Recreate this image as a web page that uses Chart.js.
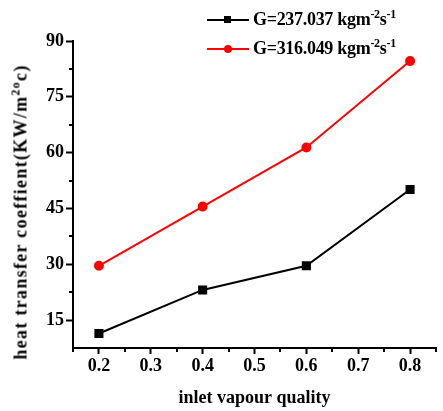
<!DOCTYPE html>
<html>
<head>
<meta charset="utf-8">
<script src="https://cdn.jsdelivr.net/npm/chart.js@4"></script>
<style>
  body { margin: 0; background: #fff; }
  #wrap { position: relative; width: 443px; height: 411px; font-family: "Liberation Serif", serif; font-weight: bold; }
  #legend { position: absolute; left: 207px; top: 5px; font-size: 18px; }
  .row { height: 29px; display: flex; align-items: center; white-space: nowrap; letter-spacing: -0.3px; }
  .sample { position: relative; width: 42px; height: 2px; margin-right: 4px; flex: none; }
  .sample i { position: absolute; left: 17px; top: -3px; width: 7px; height: 7px; }
  .sup { position: relative; top: -7px; font-size: 12px; }
  #ytitle { position: absolute; left: 21px; top: 212px; transform: translate(-50%, -50%) rotate(-90deg); font-size: 18px; white-space: nowrap; letter-spacing: 1.3px; }
</style>
</head>
<body>
<div id="wrap">
  <canvas id="chart" width="443" height="411"></canvas>
  <div id="legend"></div>
  <div id="ytitle">heat transfer coeffient(KW/m<span class="sup">2o</span>c)</div>
</div>
<script>
const quality = [0.2, 0.4, 0.6, 0.8]
const lowFlux = [11.4, 23.1, 29.6, 50.1]
const highFlux = [29.6, 45.5, 61.4, 84.6]
const xTicks = [0.2, 0.3, 0.4, 0.5, 0.6, 0.7, 0.8]
const yTicks = [15, 30, 45, 60, 75, 90]
const seriesNames = ['G=237.037 kgm<span class="sup">-2</span>s<span class="sup">-1</span>', 'G=316.049 kgm<span class="sup">-2</span>s<span class="sup">-1</span>']
const seriesColors = ['#000000', '#ff0000']

function toPoints(ys) {
    return quality.map((x, i) => ({ x: x, y: ys[i] }))
}

// small ticks between the labelled ones
const minorTicks = {
    id: 'minorTicks',
    afterDraw(chart) {
        const ctx = chart.ctx
        const xs = chart.scales.x
        const ys = chart.scales.y
        ctx.save()
        ctx.strokeStyle = '#000'
        ctx.lineWidth = 2
        ctx.beginPath()
        for (let v = 0.15; v < 0.86; v += 0.1) {
            const px = Math.round(xs.getPixelForValue(v))
            ctx.moveTo(px, ys.bottom)
            ctx.lineTo(px, ys.bottom + 4)
        }
        for (let v = 22.5; v < 90; v += 15) {
            const py = Math.round(ys.getPixelForValue(v))
            ctx.moveTo(xs.left, py)
            ctx.lineTo(xs.left - 4, py)
        }
        ctx.stroke()
        ctx.restore()
    }
}

const font = { family: '"Liberation Serif", serif', weight: 'bold', size: 18 }

new Chart(document.getElementById('chart'), {
    type: 'line',
    data: {
        datasets: [
            {
                label: 'low', data: toPoints(lowFlux), borderColor: seriesColors[0], backgroundColor: seriesColors[0],
                borderWidth: 2, pointStyle: 'rect', pointRadius: 5, pointHoverRadius: 5
            },
            {
                label: 'high', data: toPoints(highFlux), borderColor: seriesColors[1], backgroundColor: seriesColors[1],
                borderWidth: 2, pointStyle: 'circle', pointRadius: 4, pointHoverRadius: 4
            }
        ]
    },
    options: {
        responsive: false,
        animation: false,
        layout: { padding: { top: 41, right: 0, bottom: 0, left: 0 } },
        plugins: { legend: { display: false }, tooltip: { enabled: false } },
        scales: {
            x: {
                type: 'linear', min: 0.15, max: 0.85,
                afterBuildTicks: s => { s.ticks = xTicks.map(v => ({ value: v })) },
                afterFit: s => { s.height = 63 },
                border: { color: '#000', width: 2 },
                grid: { drawOnChartArea: false, drawTicks: true, tickLength: 6, tickWidth: 2, tickColor: '#000' },
                ticks: { color: '#000', font: font, padding: 2, callback: v => v.toFixed(1), maxRotation: 0 },
                title: { display: true, text: 'inlet vapour quality', color: '#000', font: font, padding: { top: 4, bottom: 2 } }
            },
            y: {
                min: 7.5, max: 90,
                afterBuildTicks: s => { s.ticks = yTicks.map(v => ({ value: v })) },
                afterFit: s => { s.width = 73 },
                border: { color: '#000', width: 2 },
                grid: { drawOnChartArea: false, drawTicks: true, tickLength: 7, tickWidth: 2, tickColor: '#000' },
                ticks: { color: '#000', font: font, padding: 2 }
            }
        }
    },
    plugins: [minorTicks]
})

const legend = document.getElementById('legend')
seriesNames.forEach((name, i) => {
    const row = document.createElement('div')
    row.className = 'row'
    const mark = i == 0 ? 'border-radius:0' : 'border-radius:50%;width:8px;height:8px;top:-3px'
    row.innerHTML = '<span class="sample" style="background:' + seriesColors[i] + '"><i style="background:' + seriesColors[i] + ';' + mark + '"></i></span><span>' + name + '</span>'
    legend.appendChild(row)
})
</script>
</body>
</html>
